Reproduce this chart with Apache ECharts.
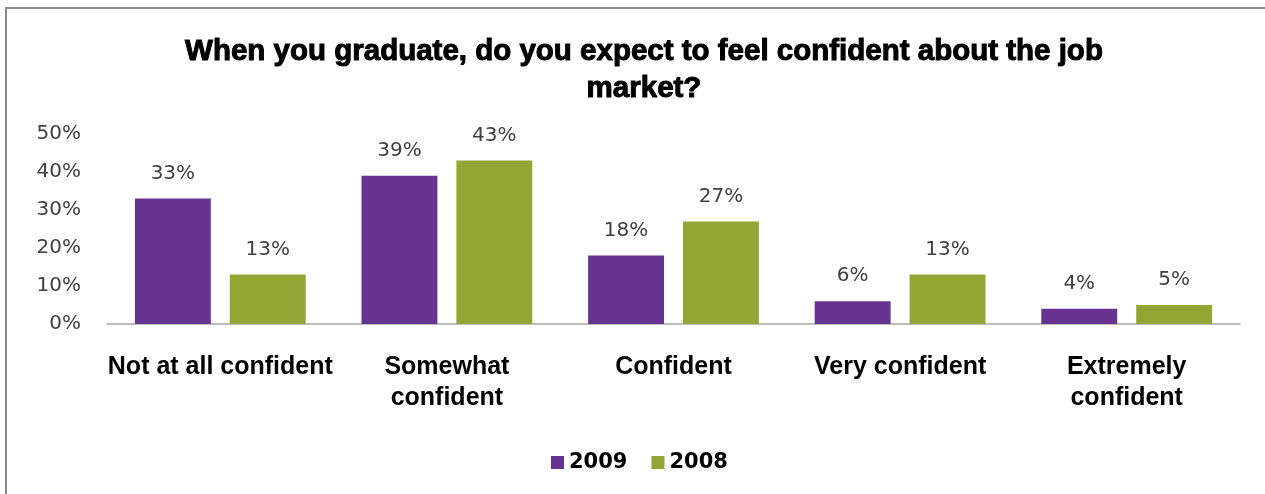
<!DOCTYPE html>
<html>
<head>
<meta charset="utf-8">
<script src="https://cdn.jsdelivr.net/npm/echarts@6/dist/echarts.min.js"></script>
<style>
  html, body { margin: 0; padding: 0; background: #fff; }
  #frame { position: absolute; left: 5px; top: 7px; width: 1260px; height: 487px;
           border-left: 2px solid #8a8a8a; border-top: 2px solid #8a8a8a; box-sizing: border-box; }
  #chart { position: absolute; left: 0; top: 0; width: 1265px; height: 494px; }
</style>
</head>
<body>
<div id="frame"></div>
<div id="chart"></div>
<script>
// Survey answers and the share of students giving each answer per year
const categories = ['Not at all confident', 'Somewhat\nconfident', 'Confident', 'Very confident', 'Extremely\nconfident'];
const values2009 = [33, 39, 18, 6, 4];
const values2008 = [13, 43, 27, 13, 5];
const yTicks = [0, 10, 20, 30, 40, 50];

const chart = echarts.init(document.getElementById('chart'), null, { renderer: 'canvas' });

const valueLabel = {
  show: true,
  position: 'top',
  distance: 15,
  formatter: p => p.value + '%',
  color: '#404040',
  fontFamily: 'DejaVu Sans, sans-serif',
  fontSize: 20
};

chart.setOption({
  animation: false,
  title: {
    text: 'When you graduate, do you expect to feel confident about the job\nmarket?',
    left: 639,
    top: 28,
    textAlign: 'center',
    textStyle: {
      fontFamily: 'Liberation Sans, Arial, sans-serif',
      fontWeight: 'bold',
      fontSize: 29.5,
      lineHeight: 37,
      color: '#000',
      textBorderColor: '#000',
      textBorderWidth: 1
    }
  },
  legend: {
    left: 546,
    top: 447,
    itemWidth: 13,
    itemHeight: 13,
    itemGap: 24,
    icon: 'rect',
    textStyle: {
      fontFamily: 'DejaVu Sans, sans-serif',
      fontWeight: 'bold',
      fontSize: 21,
      color: '#000'
    },
    data: ['2009', '2008']
  },
  grid: { left: 107, right: 25, top: 134, bottom: 170 },
  xAxis: {
    type: 'category',
    data: categories,
    axisLine: { lineStyle: { color: '#a6a6a6', width: 1.5 } },
    axisTick: { show: false },
    axisLabel: {
      interval: 0,
      margin: 28,
      fontFamily: 'Liberation Sans, Arial, sans-serif',
      fontWeight: 'bold',
      fontSize: 25,
      lineHeight: 31,
      color: '#000'
    }
  },
  yAxis: {
    type: 'value',
    min: yTicks[0],
    max: yTicks[yTicks.length - 1],
    interval: yTicks[1] - yTicks[0],
    axisLine: { show: false },
    axisTick: { show: false },
    splitLine: { show: false },
    axisLabel: {
      margin: 26,
      formatter: v => v + '%',
      fontFamily: 'DejaVu Sans, sans-serif',
      fontSize: 20,
      color: '#404040'
    }
  },
  series: [
    {
      name: '2009',
      type: 'bar',
      data: values2009,
      barWidth: '33.5%',
      barGap: '25%',
      itemStyle: { color: '#663391' },
      label: valueLabel
    },
    {
      name: '2008',
      type: 'bar',
      data: values2008,
      barWidth: '33.5%',
      itemStyle: { color: '#93a534' },
      label: valueLabel
    }
  ]
});
</script>
</body>
</html>
